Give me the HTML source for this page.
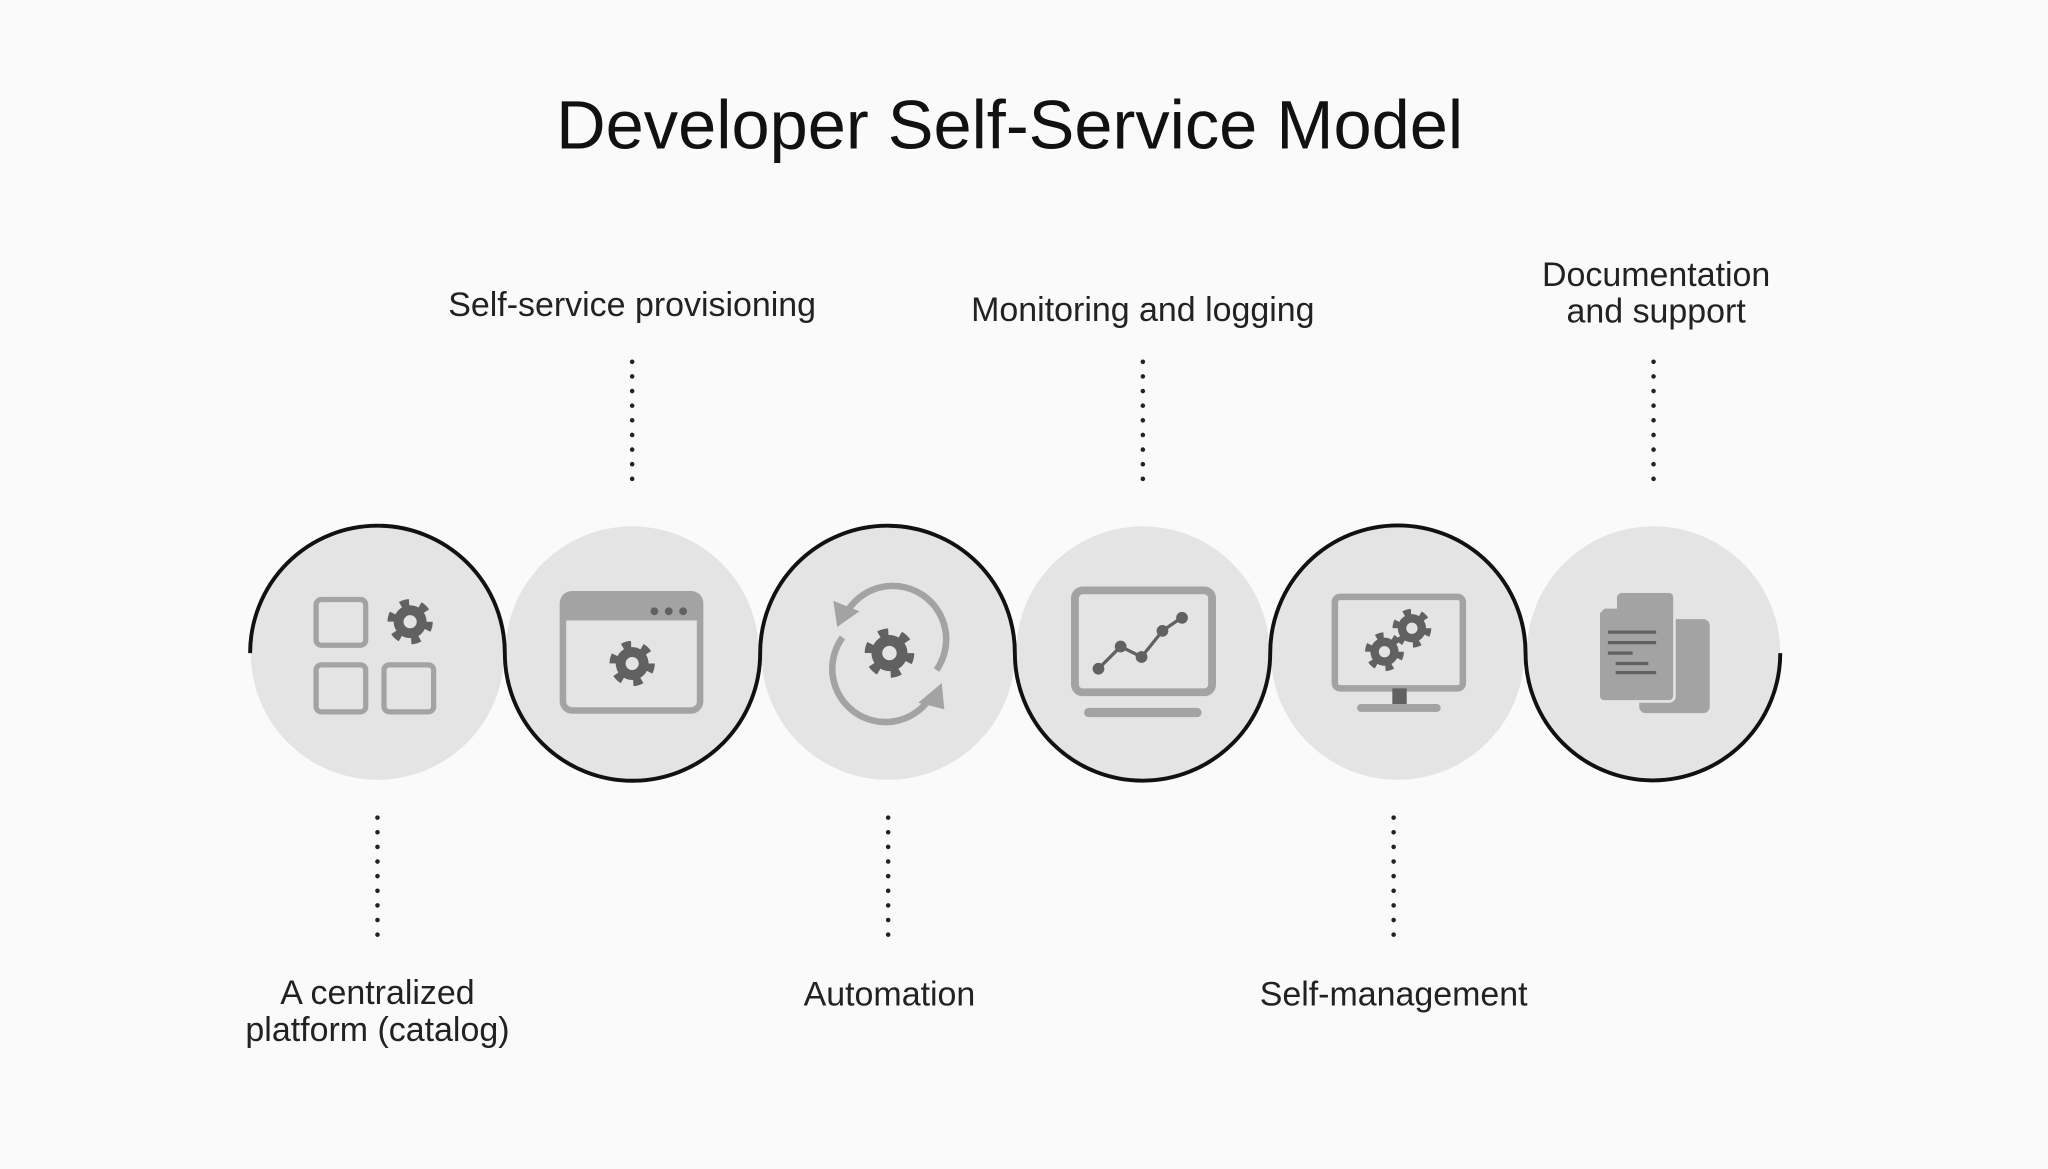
<!DOCTYPE html>
<html><head><style>html,body{margin:0;padding:0;background:#fafafa}svg{display:block}</style></head>
<body>
<svg width="2048" height="1169" viewBox="0 0 1568 895" preserveAspectRatio="none" xmlns="http://www.w3.org/2000/svg">
<defs>
<g id="gear">
<circle r="13" fill="none" stroke="#616161" stroke-width="7" stroke-dasharray="6 7.61"/>
<circle r="12" fill="#616161"/>
<circle r="4.8" fill="#e4e4e4"/>
</g>
</defs>
<rect width="1568" height="895" fill="#fafafa"/>
<text x="773" y="100" font-family="Liberation Sans, DejaVu Sans, sans-serif" font-size="52.5" fill="#111" text-anchor="middle" dominant-baseline="middle">Developer Self-Service Model</text>
<g fill="#e4e4e4">
<circle cx="289" cy="500" r="97"/><circle cx="484" cy="500" r="97"/><circle cx="680" cy="500" r="97"/>
<circle cx="875" cy="500" r="97"/><circle cx="1070" cy="500" r="97"/><circle cx="1266" cy="500" r="97"/>
</g>
<path d="M191.5 500 A97.5 97.5 0 0 1 386.5 500 A97.5 97.5 0 0 0 582 500 A97.5 97.5 0 0 1 777 500 A97.5 97.5 0 0 0 972.5 500 A97.5 97.5 0 0 1 1168 500 A97.5 97.5 0 0 0 1363 500" fill="none" stroke="#111" stroke-width="3"/>
<g stroke="#222" stroke-width="3.5" stroke-linecap="round" stroke-dasharray="0 11.2">
<line x1="484" y1="277" x2="484" y2="368"/><line x1="875" y1="277" x2="875" y2="368"/><line x1="1266" y1="277" x2="1266" y2="368"/>
<line x1="289" y1="626" x2="289" y2="717"/><line x1="680" y1="626" x2="680" y2="717"/><line x1="1067" y1="626" x2="1067" y2="717"/>
</g>
<g font-family="Liberation Sans, DejaVu Sans, sans-serif" font-size="26" fill="#222" text-anchor="middle" dominant-baseline="middle">
<text x="484" y="235">Self-service provisioning</text>
<text x="875" y="239">Monitoring and logging</text>
<text x="1268" y="212">Documentation</text><text x="1268" y="240">and support</text>
<text x="289" y="762">A centralized</text><text x="289" y="790">platform (catalog)</text>
<text x="681" y="763">Automation</text>
<text x="1067" y="763">Self-management</text>
</g>
<g fill="none" stroke="#a3a3a3" stroke-width="4">
<rect x="242" y="459" width="38" height="35" rx="4"/><rect x="242" y="509" width="38" height="36" rx="4"/><rect x="294" y="509" width="38" height="36" rx="4"/>
</g>
<use href="#gear" transform="translate(314,476) scale(1.05)"/>
<rect x="431" y="455" width="105" height="89" rx="7" fill="none" stroke="#a3a3a3" stroke-width="5"/>
<rect x="431" y="455" width="105" height="20" fill="#a3a3a3"/>
<g fill="#616161"><circle cx="501" cy="468" r="3"/><circle cx="512" cy="468" r="3"/><circle cx="523" cy="468" r="3"/></g>
<use href="#gear" transform="translate(484,508) scale(1.05)"/>
<path d="M717 513 A40 40 0 0 0 650 466" fill="none" stroke="#a3a3a3" stroke-width="5"/>
<path d="M641 480 l-3 -20 l20 8 z" fill="#a3a3a3"/>
<path d="M645 488 A40 40 0 0 0 711 536" fill="none" stroke="#a3a3a3" stroke-width="5"/>
<path d="M721 523 l2 20 l-20 -5 z" fill="#a3a3a3"/>
<use href="#gear" transform="translate(681,500) scale(1.15)"/>
<rect x="823" y="452" width="105" height="78" rx="6" fill="none" stroke="#a3a3a3" stroke-width="6"/>
<rect x="830" y="542" width="90" height="7" rx="3.5" fill="#a3a3a3"/>
<polyline points="841,512 858,495 874,503 890,483 903,474" fill="none" stroke="#616161" stroke-width="2.5"/>
<g fill="#616161"><circle cx="841" cy="512" r="4.5"/><circle cx="858" cy="495" r="4.5"/><circle cx="874" cy="503" r="4.5"/><circle cx="890" cy="483" r="4.5"/><circle cx="905" cy="473" r="4.5"/></g>
<rect x="1022" y="457" width="98" height="70" rx="4" fill="none" stroke="#a3a3a3" stroke-width="5"/>
<rect x="1066" y="527" width="11" height="13" fill="#616161"/>
<rect x="1039" y="539" width="64" height="6" rx="3" fill="#a3a3a3"/>
<use href="#gear" transform="translate(1060,499) scale(0.9)"/>
<use href="#gear" transform="translate(1081,481) scale(0.9)"/>
<rect x="1255" y="474" width="54" height="72" rx="5" fill="#a3a3a3"/>
<path d="M1240 453 h38 a4 4 0 0 1 4 4 v76 a4 4 0 0 1 -4 4 h-50 a4 4 0 0 1 -4 -4 v-64 z" fill="#a3a3a3" stroke="#e4e4e4" stroke-width="2"/>
<path d="M1224 466 l14 -14 v14 z" fill="#e4e4e4"/>
<g stroke="#616161" stroke-width="2.5"><line x1="1231" y1="484" x2="1268" y2="484"/><line x1="1231" y1="492" x2="1268" y2="492"/><line x1="1231" y1="500" x2="1250" y2="500"/><line x1="1237" y1="508" x2="1262" y2="508"/><line x1="1237" y1="515" x2="1268" y2="515"/></g>
</svg>
</body></html>
